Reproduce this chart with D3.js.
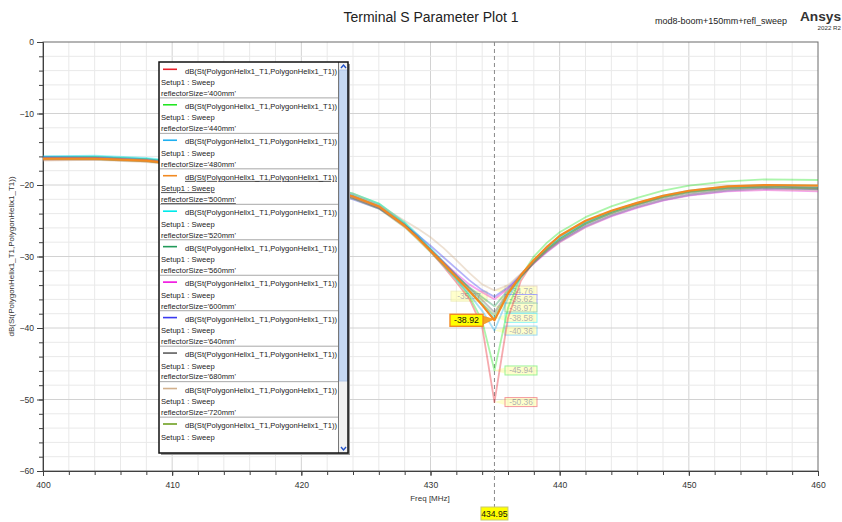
<!DOCTYPE html>
<html>
<head>
<meta charset="utf-8">
<script src="https://cdn.jsdelivr.net/npm/d3@7/dist/d3.min.js"></script>
<style>
  html, body { margin: 0; padding: 0; background: #fff; }
  svg { display: block; font-family: "Liberation Sans", Arial, sans-serif; }
</style>
</head>
<body>
<svg id="chart" width="842" height="522"></svg>
<script>
// Frequency samples (MHz)
const freqs = [400, 404, 408, 412, 416, 420, 422, 424, 426, 428, 429, 430, 431, 432, 433, 434, 434.95,
               436, 437, 438, 439, 440, 442, 444, 446, 448, 450, 453, 456, 460];

// Sweep variants
const sizes = ["400mm", "440mm", "480mm", "500mm", "520mm", "560mm", "600mm", "640mm", "680mm", "720mm", "760mm"];
const colors = ["#e8202a", "#22e622", "#1eb0f0", "#f28a22", "#00eaea", "#229a5a", "#f010e0", "#3a3af0", "#5e5e5e", "#d2b08c", "#6ea020"];

// dB(S11) per variant, one value per frequency sample
const s400 = [-16.5, -16.4, -16.7, -17.4, -18.4, -19.7, -20.5, -21.5, -22.9, -25.5, -27.3, -29.3, -31.4, -33.6, -35.9, -39.8, -50.36,
              -38.6, -33.4, -30.6, -28.6, -27.2, -25.1, -23.7, -22.6, -21.6, -20.9, -20.3, -20.1, -20.4];
const s440 = [-16.2, -16.1, -16.4, -17.1, -18.1, -19.4, -20.2, -21.2, -22.6, -25.3, -27.1, -29.0, -31.1, -33.2, -35.5, -39.0, -45.94,
              -37.2, -32.8, -30.0, -28.1, -26.6, -24.5, -23.0, -21.8, -20.8, -20.1, -19.5, -19.2, -19.3];
const s480 = [-16.0, -16.0, -16.3, -17.1, -18.2, -19.6, -20.4, -21.4, -22.8, -25.5, -27.3, -29.2, -31.2, -33.2, -35.3, -37.6, -40.36,
              -35.8, -32.9, -30.7, -28.9, -27.4, -25.3, -23.8, -22.6, -21.6, -20.9, -20.4, -20.2, -20.3];
const s500 = [-16.3, -16.3, -16.6, -17.4, -18.5, -19.8, -20.6, -21.6, -23.0, -25.7, -27.4, -29.2, -31.0, -32.9, -34.8, -36.8, -38.92,
              -35.2, -32.6, -30.5, -28.7, -27.1, -25.0, -23.6, -22.5, -21.5, -20.8, -20.2, -20.0, -20.1];
const s520 = [-16.0, -15.9, -16.2, -17.0, -18.1, -19.4, -20.2, -21.2, -22.6, -25.2, -26.9, -28.8, -30.7, -32.6, -34.6, -36.6, -38.58,
              -35.3, -32.8, -30.7, -28.9, -27.4, -25.2, -23.7, -22.5, -21.5, -20.8, -20.2, -20.0, -20.1];
const s560 = [-16.1, -16.1, -16.4, -17.2, -18.3, -19.7, -20.5, -21.6, -23.0, -25.6, -27.3, -29.1, -30.9, -32.7, -34.3, -35.7, -36.97,
              -34.7, -32.6, -30.7, -29.0, -27.6, -25.4, -23.9, -22.7, -21.7, -21.0, -20.4, -20.2, -20.4];
const s600 = [-16.2, -16.2, -16.5, -17.3, -18.4, -19.8, -20.7, -21.8, -23.2, -25.8, -27.4, -29.1, -30.8, -32.4, -33.9, -35.0, -35.97,
              -34.5, -32.7, -31.0, -29.4, -28.0, -25.9, -24.4, -23.2, -22.2, -21.5, -20.9, -20.7, -20.9];
const s640 = [-16.1, -16.2, -16.6, -17.5, -18.7, -20.1, -21.0, -22.0, -23.3, -25.6, -27.0, -28.5, -30.1, -31.7, -33.3, -34.7, -35.62,
              -34.3, -32.5, -30.8, -29.3, -27.9, -25.8, -24.3, -23.1, -22.1, -21.4, -20.8, -20.5, -20.6];
const s680 = [-16.3, -16.3, -16.6, -17.4, -18.5, -19.9, -20.8, -21.8, -23.2, -25.7, -27.3, -29.0, -30.8, -32.6, -34.4, -36.1, -37.8,
              -35.0, -32.8, -30.9, -29.2, -27.8, -25.6, -24.1, -22.9, -21.9, -21.2, -20.6, -20.4, -20.6];
const s720 = [-16.6, -16.5, -16.8, -17.4, -18.3, -19.5, -20.3, -21.2, -22.8, -25.0, -26.1, -27.3, -28.8, -30.5, -32.3, -33.9, -34.76,
              -34.0, -32.4, -30.8, -29.3, -28.0, -25.9, -24.3, -23.1, -22.1, -21.4, -20.8, -20.6, -20.8];
const s760 = [-16.4, -16.4, -16.7, -17.5, -18.6, -20.0, -20.9, -21.9, -23.3, -25.9, -27.6, -29.4, -31.2, -33.0, -34.9, -36.6, -38.2,
              -35.2, -32.9, -30.9, -29.1, -27.6, -25.4, -23.9, -22.7, -21.7, -21.0, -20.5, -20.3, -20.5];
const seriesValues = [s400, s440, s480, s500, s520, s560, s600, s640, s680, s720, s760];

// Marker m1 readout placement per variant
const markerFreq = 434.95;
const markerSide = ["right", "right", "right", "active", "right", "right", "left", "right", "none", "right", "none"];
const activeIndex = 3;

const xTicks = [400, 410, 420, 430, 440, 450, 460];
const yTicks = [-60, -50, -40, -30, -20, -10, 0];

const svg = d3.select("#chart");
const m = { left: 43, right: 818, top: 42, bottom: 471 };
const x = d3.scaleLinear().domain([400, 460]).range([m.left, m.right]);
const y = d3.scaleLinear().domain([-60, 0]).range([m.bottom, m.top]);

// Header texts
svg.append("text").attr("x", 431).attr("y", 22).attr("text-anchor", "middle")
  .attr("font-size", 14).attr("fill", "#222").text("Terminal S Parameter Plot 1");
svg.append("text").attr("x", 787).attr("y", 24).attr("text-anchor", "end")
  .attr("font-size", 9).attr("fill", "#222").text("mod8-boom+150mm+refl_sweep");
svg.append("text").attr("x", 841).attr("y", 21).attr("text-anchor", "end")
  .attr("font-size", 13.7).attr("font-weight", "bold").attr("fill", "#333").text("Ansys");
svg.append("text").attr("x", 841).attr("y", 30).attr("text-anchor", "end")
  .attr("font-size", 6.2).attr("fill", "#333").text("2022 R2");

// Grid
const grid = svg.append("g");
d3.range(402, 460, 2).forEach(f => {
  grid.append("line").attr("x1", x(f)).attr("x2", x(f)).attr("y1", m.top).attr("y2", m.bottom)
    .attr("stroke", f % 10 === 0 ? "#d2d2d2" : "#e9e9e9").attr("stroke-width", 1);
});
d3.range(-58, 0, 2).forEach(v => {
  grid.append("line").attr("y1", y(v)).attr("y2", y(v)).attr("x1", m.left).attr("x2", m.right)
    .attr("stroke", v % 10 === 0 ? "#d2d2d2" : "#e9e9e9").attr("stroke-width", 1);
});

// Plot frame
svg.append("rect").attr("x", m.left).attr("y", m.top).attr("width", m.right - m.left).attr("height", m.bottom - m.top)
  .attr("fill", "none").attr("stroke", "#6a6a6a").attr("stroke-width", 1);

// Axes: major ticks with labels, minor ticks every 2 units
function styleAxis(g) {
  g.select(".domain").attr("stroke", "#404040");
  g.selectAll(".tick line").attr("stroke", "#404040");
  g.selectAll(".tick text").attr("fill", "#333").attr("font-size", 8.6)
    .attr("font-family", "Liberation Sans, Arial, sans-serif");
}
svg.append("g").attr("transform", `translate(0,${m.bottom})`)
  .call(d3.axisBottom(x).tickValues(d3.range(400, 461, 2)).tickSize(4).tickFormat("").tickSizeOuter(0)).call(styleAxis);
svg.append("g").attr("transform", `translate(0,${m.bottom})`)
  .call(d3.axisBottom(x).tickValues(xTicks).tickSize(5).tickPadding(6).tickFormat(d3.format("d")).tickSizeOuter(0)).call(styleAxis);
svg.append("g").attr("transform", `translate(${m.left},0)`)
  .call(d3.axisLeft(y).tickValues(d3.range(-60, 1, 2)).tickSize(4).tickFormat("").tickSizeOuter(0)).call(styleAxis);
svg.append("g").attr("transform", `translate(${m.left},0)`)
  .call(d3.axisLeft(y).tickValues(yTicks).tickSize(6).tickPadding(3).tickFormat(d3.format("d")).tickSizeOuter(0)).call(styleAxis);

svg.append("text").attr("x", 430).attr("y", 501).attr("text-anchor", "middle")
  .attr("font-size", 8).attr("fill", "#333").text("Freq [MHz]");
svg.append("text").attr("transform", `translate(14,${(m.top + m.bottom) / 2}) rotate(-90)`)
  .attr("text-anchor", "middle").attr("font-size", 8).attr("fill", "#333")
  .text("dB(St(PolygonHelix1_T1,PolygonHelix1_T1))");

// Marker line
const mx = x(markerFreq);
svg.append("line").attr("x1", mx).attr("x2", mx).attr("y1", m.top).attr("y2", 507)
  .attr("stroke", "#8a8a8a").attr("stroke-dasharray", "4,3").attr("stroke-width", 1);

const mi = freqs.indexOf(markerFreq);

// Right-hand readouts are stacked so that each box keeps its own row
const rightRows = seriesValues.map((vals, i) => ({ i, v: vals[mi], yy: y(vals[mi]) }))
  .filter(r => markerSide[r.i] === "right")
  .sort((a, b) => a.yy - b.yy);
rightRows.forEach((r, k) => {
  r.by = k === 0 ? r.yy : Math.max(r.yy, rightRows[k - 1].by + 8.5);
});

// Faded marker readouts (under the traces)
const readouts = svg.append("g").attr("opacity", 0.45);
rightRows.forEach(r => {
  const g = readouts.append("g");
  g.append("path").attr("d", `M${mx},${r.yy} L505,${r.by - 3} L505,${r.by + 3} Z`).attr("fill", "#ffff90");
  g.append("rect").attr("x", 505).attr("y", r.by - 4.5).attr("width", 32).attr("height", 9)
    .attr("fill", "#ffff90").attr("stroke", colors[r.i]).attr("stroke-width", 1);
  g.append("text").attr("x", 521).attr("y", r.by + 3).attr("text-anchor", "middle")
    .attr("font-size", 8.4).attr("fill", "#555").text(r.v.toFixed(2));
});
seriesValues.forEach((vals, i) => {
  if (markerSide[i] !== "left") return;
  const v = vals[mi], yy = y(v);
  const g = readouts.append("g");
  g.append("path").attr("d", `M${mx},${yy} L487,${yy - 6} L487,${yy - 2} Z`).attr("fill", "#ffff90");
  g.append("rect").attr("x", 451).attr("y", yy - 8).attr("width", 36).attr("height", 10)
    .attr("fill", "#ffff90").attr("stroke", "#e0e080").attr("stroke-width", 1);
  g.append("text").attr("x", 469).attr("y", yy).attr("text-anchor", "middle")
    .attr("font-size", 8.4).attr("fill", "#555").text(v.toFixed(2));
});

// Traces
const line = d3.line().x((d, k) => x(freqs[k])).y(d => y(d));
const traces = svg.append("g");
seriesValues.forEach((vals, i) => {
  if (i === activeIndex) return;
  traces.append("path").datum(vals).attr("d", line).attr("fill", "none")
    .attr("stroke", colors[i]).attr("stroke-width", 1.8).attr("stroke-opacity", 0.38)
    .attr("stroke-linejoin", "round");
});
traces.append("path").datum(seriesValues[activeIndex]).attr("d", line).attr("fill", "none")
  .attr("stroke", colors[activeIndex]).attr("stroke-width", 2.2).attr("stroke-linejoin", "round");

// Active marker readout
{
  const v = seriesValues[activeIndex][mi], yy = y(v);
  const g = svg.append("g");
  g.append("path").attr("d", `M483,${yy - 4} L${mx - 1},${yy - 1} L483,${yy + 4} Z`)
    .attr("fill", "#f5a623").attr("stroke", colors[activeIndex]).attr("stroke-width", 0.8);
  g.append("rect").attr("x", 450).attr("y", yy - 6).attr("width", 33).attr("height", 12)
    .attr("fill", "#ffff00").attr("stroke", colors[activeIndex]).attr("stroke-width", 1.4);
  g.append("text").attr("x", 466.5).attr("y", yy + 3.2).attr("text-anchor", "middle")
    .attr("font-size", 8.8).attr("fill", "#111").text(v.toFixed(2));
}

// Marker frequency readout below the axis
svg.append("rect").attr("x", mx - 13.5).attr("y", 507).attr("width", 27).attr("height", 13)
  .attr("fill", "#ffff00").attr("stroke", "#c8c870").attr("stroke-width", 1);
svg.append("text").attr("x", mx).attr("y", 517).attr("text-anchor", "middle")
  .attr("font-size", 8.6).attr("fill", "#111").text(markerFreq.toFixed(2));

// Legend panel
const L = { x: 159, y: 62, w: 189, h: 391 };
const legend = svg.append("g");
legend.append("rect").attr("x", L.x + 2).attr("y", L.y + 2).attr("width", L.w).attr("height", L.h).attr("fill", "#9a9a9a");
legend.append("rect").attr("x", L.x).attr("y", L.y).attr("width", L.w).attr("height", L.h).attr("fill", "#fff");

svg.append("defs").append("clipPath").attr("id", "legclip")
  .append("rect").attr("x", L.x).attr("y", L.y).attr("width", 179).attr("height", 381);
const items = legend.append("g").attr("clip-path", "url(#legclip)");
const rowH = 35.47;
sizes.forEach((s, i) => {
  const top = 69.3 + i * rowH;
  const g = items.append("g");
  const active = i === activeIndex;
  g.append("line").attr("x1", 163).attr("x2", 177).attr("y1", top).attr("y2", top)
    .attr("stroke", colors[i]).attr("stroke-width", 1.6);
  const t1 = g.append("text").attr("x", 185).attr("y", top + 4.2).attr("font-size", 7.6).attr("fill", "#222")
    .text("dB(St(PolygonHelix1_T1,PolygonHelix1_T1))");
  const t2 = g.append("text").attr("x", 161).attr("y", top + 15.6).attr("font-size", 7.6).attr("fill", "#222")
    .text("Setup1 : Sweep");
  const t3 = g.append("text").attr("x", 161).attr("y", top + 26.4).attr("font-size", 7.6).attr("fill", "#222")
    .text("reflectorSize='" + s + "'");
  if (active) [t1, t2, t3].forEach(t => t.attr("text-decoration", "underline"));
  if (i < sizes.length - 1) {
    g.append("line").attr("x1", L.x + 1).attr("x2", 338).attr("y1", top + 28.6).attr("y2", top + 28.6)
      .attr("stroke", "#a8a8a8").attr("stroke-width", 1);
  }
});

// Scrollbar
legend.append("rect").attr("x", 339).attr("y", L.y).attr("width", 9).attr("height", L.h).attr("fill", "#f2f2f2");
legend.append("line").attr("x1", 338.5).attr("x2", 338.5).attr("y1", L.y).attr("y2", L.y + L.h)
  .attr("stroke", "#777").attr("stroke-width", 1);
legend.append("rect").attr("x", 339.5).attr("y", 70).attr("width", 8).attr("height", 311)
  .attr("fill", "#c6d9f2").attr("stroke", "#a6bfe6").attr("stroke-width", 0.8);
legend.append("path").attr("d", `M341,68 L343.5,65 L346,68`).attr("fill", "none").attr("stroke", "#2050c8").attr("stroke-width", 1.4);
legend.append("path").attr("d", `M341,447 L343.5,450 L346,447`).attr("fill", "none").attr("stroke", "#2050c8").attr("stroke-width", 1.4);
legend.append("rect").attr("x", L.x).attr("y", L.y).attr("width", L.w).attr("height", L.h)
  .attr("fill", "none").attr("stroke", "#111").attr("stroke-width", 1.5);
</script>
</body>
</html>
